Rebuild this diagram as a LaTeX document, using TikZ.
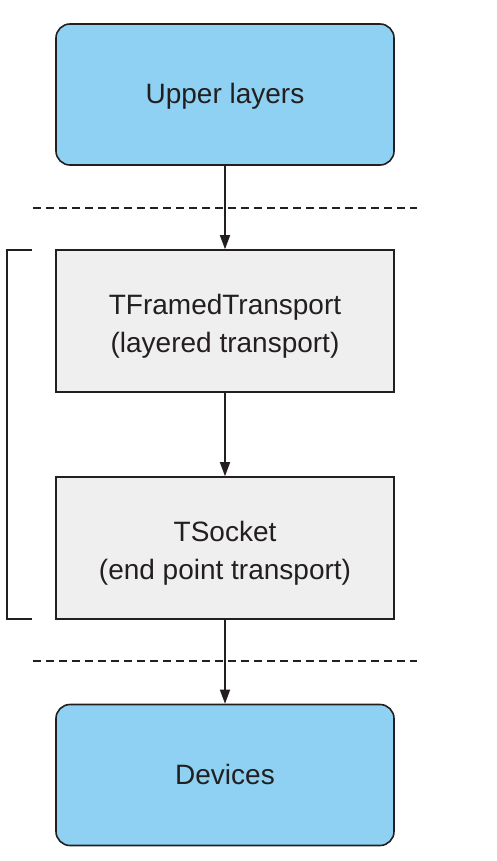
\documentclass[tikz,border=0pt]{standalone}
\usepackage{fontspec}
\setmainfont{Liberation Sans}
\usetikzlibrary{arrows.meta}
\definecolor{bluefill}{HTML}{8ED1F2}
\definecolor{grayfill}{HTML}{EFEFEF}
\definecolor{ink}{HTML}{231F20}
\tikzset{
  bluebox/.style={draw=ink, line width=1.6pt, fill=bluefill, rounded corners=14pt,
    minimum width=338pt, minimum height=141pt, inner sep=0pt, align=center,
    font=\fontsize{28}{38}\selectfont, text=ink},
  graybox/.style={draw=ink, line width=1.6pt, fill=grayfill,
    minimum width=338pt, minimum height=142pt, inner sep=0pt, align=center,
    font=\fontsize{28}{38}\selectfont, text=ink},
  flow/.style={draw=ink, line width=1.6pt, -{Triangle[length=14pt,width=10pt]}},
  sep/.style={draw=ink, line width=1.4pt, dash pattern=on 8pt off 5pt},
  bracket/.style={draw=ink, line width=1.4pt}
}
\begin{document}
\begin{tikzpicture}[x=1pt,y=-1pt]
\useasboundingbox (0,0) rectangle (497,861);
\node[bluebox, text depth=2pt] (upper) at (225,94.5) {Upper layers};
\node[graybox] (framed) at (225,321) {\rule{0pt}{30pt}TFramedTransport\\(layered transport)};
\node[graybox] (socket) at (225,548) {\rule{0pt}{30pt}TSocket\\(end point transport)};
\node[bluebox, text depth=2pt] (devices) at (225,775) {Devices};
\coordinate (d1l) at (33,208);
\coordinate (d1r) at (417,208);
\coordinate (d2l) at (33,661);
\coordinate (d2r) at (417,661);
\draw[sep] (d1l) -- (d1r);
\draw[sep] (d2l) -- (d2r);
\draw[flow] (upper) -- (framed);
\draw[flow] (framed) -- (socket);
\draw[flow] (socket) -- (devices);
\coordinate (bt) at (32,250);
\coordinate (bb) at (32,619);
\draw[bracket] (bt) -- (7,250) -- (7,619) -- (bb);
\end{tikzpicture}
\end{document}
